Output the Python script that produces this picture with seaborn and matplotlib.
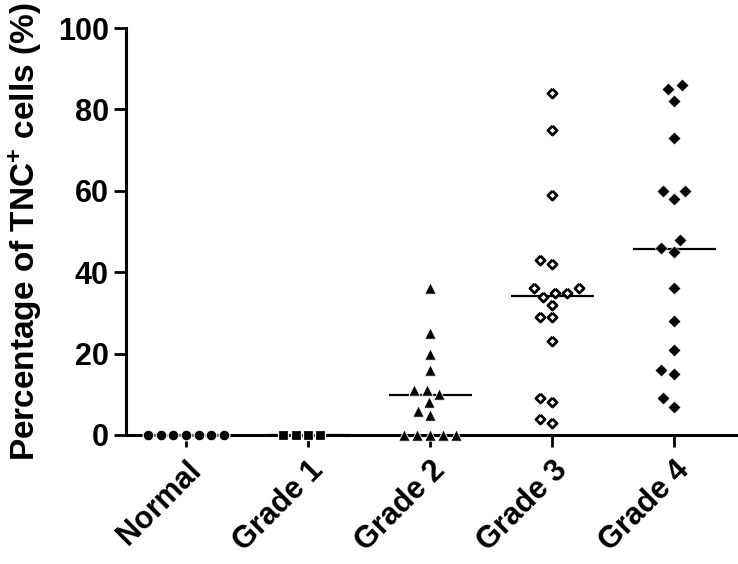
import numpy as np
import pandas as pd
import matplotlib
matplotlib.use("Agg")
import matplotlib.pyplot as plt
import seaborn as sns

# values (percentage of TNC+ cells)
groups = ["Normal", "Grade 1", "Grade 2", "Grade 3", "Grade 4"]
normal = [0, 0, 0, 0, 0, 0, 0]
grade1 = [0, 0, 0, 0]
grade2 = [36, 25, 20, 16, 11, 10, 11, 8, 6, 5, 0, 0, 0, 0, 0]
grade3 = [84, 75, 59, 43, 42, 36, 35, 34, 35, 36, 32, 29, 29, 23, 9, 8, 4, 3]
grade4 = [86, 85, 82, 73, 60, 60, 58, 48, 46, 45, 36, 28, 21, 16, 15, 9, 7]
y_ticks = [0, 20, 40, 60, 80, 100]

series = [normal, grade1, grade2, grade3, grade4]
df = pd.DataFrame({
    "group": [g for g, v in zip(groups, series) for _ in v],
    "value": [x for v in series for x in v],
})

sns.set_style("ticks")
plt.rcParams["font.family"] = ["Liberation Sans", "DejaVu Sans"]
plt.rcParams["font.weight"] = "bold"
plt.rcParams["text.color"] = "black"
plt.rcParams["axes.labelcolor"] = "black"
plt.rcParams["xtick.color"] = "black"
plt.rcParams["ytick.color"] = "black"
plt.rcParams["axes.edgecolor"] = "black"
plt.rcParams["mathtext.fontset"] = "custom"
plt.rcParams["mathtext.rm"] = "Liberation Sans:bold"
plt.rcParams["mathtext.default"] = "rm"

fig = plt.figure(figsize=(7.38, 5.64), dpi=100)
ax = fig.add_axes([126 / 738, 1 - 435 / 564, 612 / 738, 407 / 564])

diamond = [(0, 1), (1, 0), (0, -1), (-1, 0), (0, 1)]
styles = {
    "Normal": dict(marker="o", size=7.8, color="black", edgecolor="white", linewidth=0.9),
    "Grade 1": dict(marker="s", size=7.6, color="black", edgecolor="white", linewidth=0.9),
    "Grade 2": dict(marker="^", size=8.2, color="black", edgecolor="white", linewidth=0.6),
    "Grade 3": dict(marker=diamond, size=6.6, color="white", edgecolor="black", linewidth=2.0),
    "Grade 4": dict(marker=diamond, size=9.2, color="black", edgecolor="white", linewidth=0.4),
}

for g in groups:
    sns.swarmplot(data=df[df["group"] == g], x="group", y="value", order=groups,
                  ax=ax, clip_on=False, zorder=3, **styles[g])

# mean lines
means = df.groupby("group")["value"].mean().reindex(groups)
for i, m in enumerate(means):
    ax.hlines(m, i - 0.34, i + 0.34, color="black", lw=1.6, zorder=2)

ax.set_xlim(-0.492, 4.524)
ax.set_ylim(0, 100)
ax.set_yticks(y_ticks)
ax.set_xlabel("")
ax.set_ylabel("Percentage of TNC$^{+}$ cells (%)", fontsize=24, fontweight="bold", labelpad=10)

sns.despine(ax=ax)
for s in ["left", "bottom"]:
    ax.spines[s].set_linewidth(2.2)
ax.tick_params(axis="both", width=2, length=8.5, color="black")
ax.tick_params(axis="y", labelsize=22, pad=4)
ax.tick_params(axis="x", labelsize=22, pad=6)
for lab in ax.get_yticklabels():
    lab.set_fontweight("bold")
plt.setp(ax.get_xticklabels(), rotation=45, ha="right", va="top",
         rotation_mode="anchor", fontweight="bold")

fig.savefig("out.png", dpi=100)
